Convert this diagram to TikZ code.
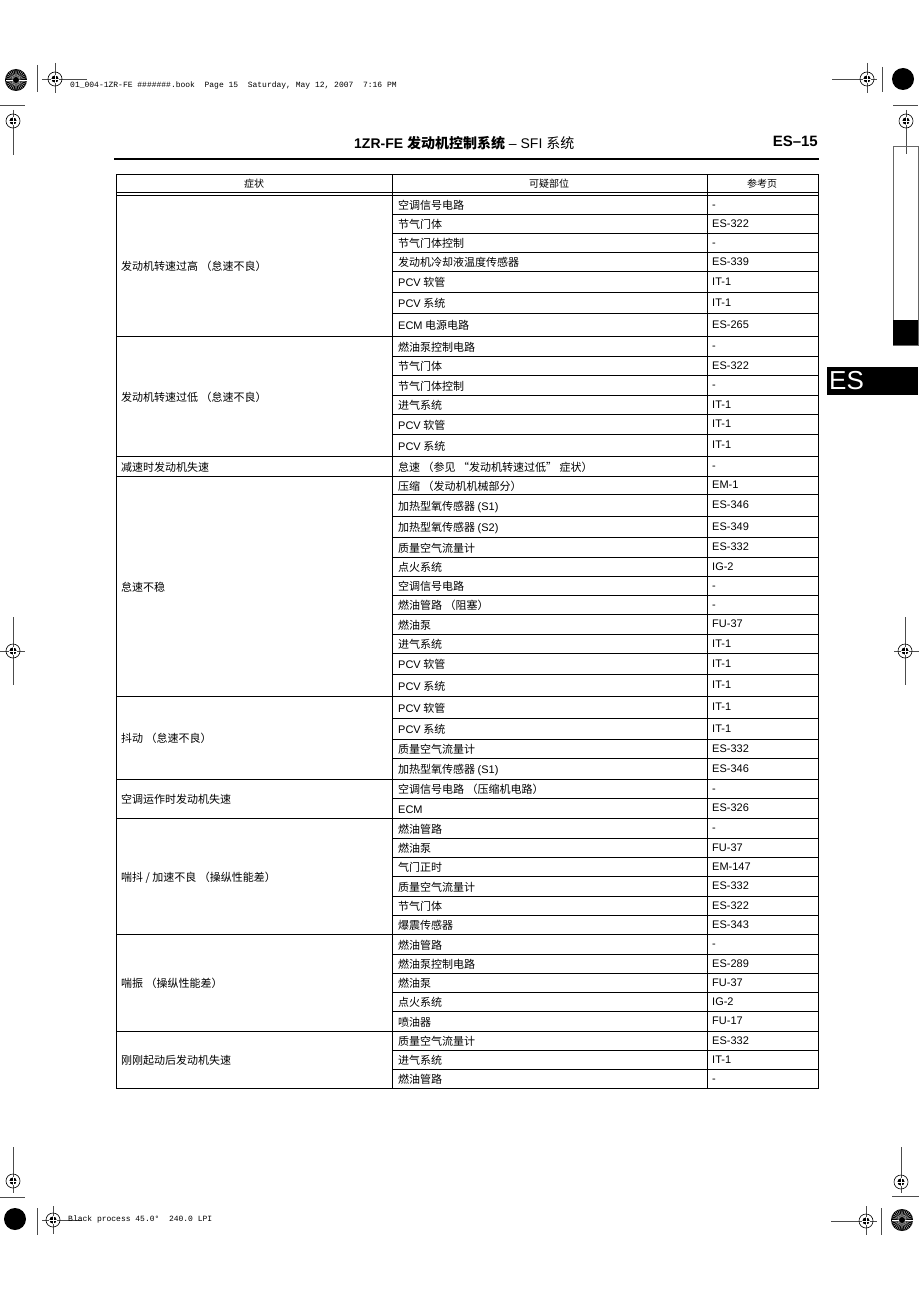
\documentclass[tikz,border=0pt]{standalone}
\usepackage{fontspec}
\setmainfont{Liberation Sans}
\newfontfamily\cjk{Noto Sans CJK SC}
\newfontfamily\slugfont{Liberation Mono}
\newcommand{\ltn}[1]{{\rmfamily #1}}

\begin{document}
\begin{tikzpicture}[x=1pt, y=-1pt,
	cell/.style={anchor=base west, inner sep=0pt, font=\cjk\fontsize{11}{13}\selectfont},
	refcell/.style={anchor=base west, inner sep=0pt, font=\fontsize{11}{13}\selectfont},
	headcell/.style={inner sep=0pt, font=\cjk\fontsize{10}{12}\selectfont},
	rule/.style={line width=1pt},
	cropline/.style={line width=0.5pt, color=black!70},
	slug/.style={anchor=west, inner sep=0pt, font=\slugfont\fontsize{8}{9}\selectfont},
	regmark/.pic={
		\draw[line width=0.6pt] (0,0) circle (7pt);
		\fill (0,0) circle (3.6pt);
		\draw[white, line width=0.6pt] (-3.6,0) -- (3.6,0) (0,-3.6) -- (0,3.6);
	},
	starburst/.pic={
		\fill (0,0) circle (11pt);
		\foreach \a in {0,12,...,348} \draw[white, line width=0.25pt] (0,0) -- (\a:10.5pt);
		\fill (0,0) circle (3pt);
	}]
	\useasboundingbox[fill=white] (0,0) rectangle (919,1300);

	% printer marks, top
	\draw[cropline] (37,65) -- (37,92) (42,79) -- (87,79) (55,63) -- (55,93);
	\draw[cropline] (0,105) -- (25,105) (13,110) -- (13,155);
	\pic at (16,80) {starburst};
	\pic at (55,79) {regmark};
	\pic at (13,121) {regmark};
	\node[slug] (slugtop) at (70,85) {01\_004-1ZR-FE \#\#\#\#\#\#\#.book\ \ Page 15\ \ Saturday, May 12, 2007\ \ 7:16 PM};

	\draw[cropline] (832,79) -- (877,79) (867,63) -- (867,93) (882,67) -- (882,92);
	\draw[cropline] (893,105) -- (918,105) (906,110) -- (906,154);
	\fill (903,79) circle (11pt);
	\pic at (867,79) {regmark};
	\pic at (906,121) {regmark};

	% side tab
	\draw[color=black!60] (893,146) rectangle (918,345);
	\fill (893,320) rectangle (918,345);
	\fill (827,367) rectangle (918,395);
	\node[anchor=west, inner sep=0pt, white, font=\fontsize{26}{26}\selectfont] (tab) at (829,381) {ES};

	% printer marks, middle and bottom
	\draw[cropline] (0,651) -- (25,651) (13,617) -- (13,685);
	\draw[cropline] (894,651) -- (919,651) (905,617) -- (905,685);
	\pic at (13,651) {regmark};
	\pic at (905,651) {regmark};

	\draw[cropline] (13,1147) -- (13,1193) (0,1197) -- (25,1197);
	\draw[cropline] (37,1208) -- (37,1235) (42,1220) -- (82,1220) (53,1206) -- (53,1234);
	\fill (15,1219) circle (11pt);
	\pic at (13,1181) {regmark};
	\pic at (53,1220) {regmark};
	\node[slug] (slugbottom) at (68,1219) {Black process 45.0°\ \ 240.0 LPI};

	\draw[cropline] (901,1147) -- (901,1193) (892,1196) -- (919,1196);
	\draw[cropline] (831,1221) -- (877,1221) (866,1206) -- (866,1235) (881,1208) -- (881,1235);
	\pic at (901,1182) {regmark};
	\pic at (866,1221) {regmark};
	\pic at (902,1220) {starburst};

	% page heading
	\node[anchor=west, inner sep=0pt, font=\fontsize{14}{16}\selectfont] (title) at (354,143)
		{\textbf{1ZR-FE} {\cjk\bfseries 发动机控制系统} – SFI {\cjk 系统}};
	\node[anchor=east, inner sep=0pt, font=\bfseries\fontsize{15}{17}\selectfont] (page) at (818,141) {ES–15};
	\draw[line width=2pt] (114,159) -- (819,159);

	% table frame
	\draw[line width=1pt] (116,175) rectangle (818,1088);
	\draw[rule] (392,175) -- (392,1088);
	\draw[rule] (707,175) -- (707,1088);
	\draw[line width=1.2pt] (116,192.5) -- (818,192.5);
	\draw[rule] (116,195.5) -- (818,195.5);

	\node[headcell] (h1) at (254,184) {症状};
	\node[headcell] (h2) at (549,184) {可疑部位};
	\node[headcell] (h3) at (762,184) {参考页};

	% parts and reference pages
	\foreach \t/\b/\part/\ref in {
		195/214/空调信号电路/-, 214/233/节气门体/ES-322, 233/252/节气门体控制/-,
		252/271/发动机冷却液温度传感器/ES-339, 271/292/\ltn{PCV} 软管/IT-1,
		292/313/\ltn{PCV} 系统/IT-1, 313/336/\ltn{ECM} 电源电路/ES-265,
		336/356/燃油泵控制电路/-, 356/375/节气门体/ES-322, 375/395/节气门体控制/-,
		395/414/进气系统/IT-1, 414/434/\ltn{PCV} 软管/IT-1, 434/456/\ltn{PCV} 系统/IT-1,
		456/476/怠速 （参见 “发动机转速过低” 症状）/-,
		476/494/压缩 （发动机机械部分）/EM-1, 494/516/加热型氧传感器 \ltn{(S1)}/ES-346,
		516/537/加热型氧传感器 \ltn{(S2)}/ES-349, 537/557/质量空气流量计/ES-332,
		557/576/点火系统/IG-2, 576/595/空调信号电路/-, 595/614/燃油管路 （阻塞）/-,
		614/634/燃油泵/FU-37, 634/653/进气系统/IT-1, 653/674/\ltn{PCV} 软管/IT-1,
		674/696/\ltn{PCV} 系统/IT-1,
		696/718/\ltn{PCV} 软管/IT-1, 718/739/\ltn{PCV} 系统/IT-1,
		739/758/质量空气流量计/ES-332, 758/779/加热型氧传感器 \ltn{(S1)}/ES-346,
		779/798/空调信号电路 （压缩机电路）/-, 798/818/\ltn{ECM}/ES-326,
		818/838/燃油管路/-, 838/857/燃油泵/FU-37, 857/876/气门正时/EM-147,
		876/896/质量空气流量计/ES-332, 896/915/节气门体/ES-322, 915/934/爆震传感器/ES-343,
		934/954/燃油管路/-, 954/973/燃油泵控制电路/ES-289, 973/992/燃油泵/FU-37,
		992/1011/点火系统/IG-2, 1011/1031/喷油器/FU-17,
		1031/1050/质量空气流量计/ES-332, 1050/1069/进气系统/IT-1, 1069/1088/燃油管路/-} {
		\node[cell] (part\t) at (398,{(\t+\b)/2+5}) {\part};
		\node[refcell] (ref\t) at (712,{(\t+\b)/2+3.5}) {\ref};
		\draw[rule] (392,\b) -- (818,\b);
	}

	% symptoms
	\foreach \t/\b in {195/336, 336/456, 456/476, 476/696, 696/779, 779/818, 818/934, 934/1031}
		\draw[rule] (116,\b) -- (392,\b);

	\node[cell] (s1) at (121,270.5) {发动机转速过高 （怠速不良）};
	\node[cell] (s2) at (121,401) {发动机转速过低 （怠速不良）};
	\node[cell] (s3) at (121,471) {减速时发动机失速};
	\node[cell] (s4) at (121,591) {怠速不稳};
	\node[cell] (s5) at (121,742.5) {抖动 （怠速不良）};
	\node[cell] (s6) at (121,803.5) {空调运作时发动机失速};
	\node[cell] (s7) at (121,881) {喘抖 / 加速不良 （操纵性能差）};
	\node[cell] (s8) at (121,987.5) {喘振 （操纵性能差）};
	\node[cell] (s9) at (121,1064.5) {刚刚起动后发动机失速};
\end{tikzpicture}
\end{document}
